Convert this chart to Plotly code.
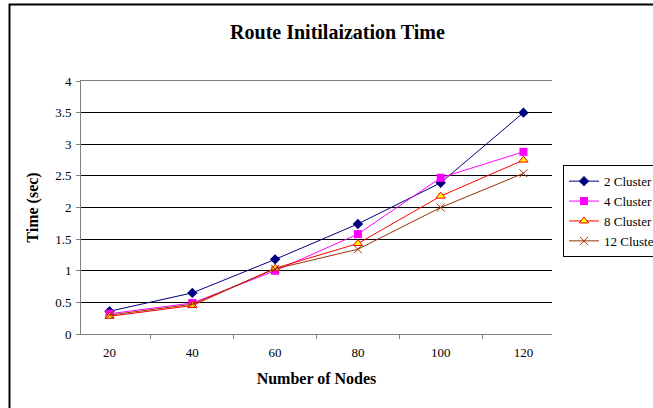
import plotly.graph_objects as go

nodes = ["20", "40", "60", "80", "100", "120"]
cluster2 = [0.36, 0.65, 1.18, 1.74, 2.39, 3.50]
cluster4 = [0.32, 0.49, 1.00, 1.58, 2.47, 2.88]
cluster8 = [0.28, 0.45, 1.04, 1.43, 2.18, 2.75]
cluster12 = [0.30, 0.47, 1.03, 1.34, 2.00, 2.54]

FONT = "Liberation Serif, Times New Roman, serif"

fig = go.Figure()
fig.add_trace(go.Scatter(x=nodes, y=cluster2, name="2 Cluster", mode="lines+markers",
                         line=dict(color="#000080", width=1),
                         marker=dict(symbol="diamond", size=8, color="#000080")))
fig.add_trace(go.Scatter(x=nodes, y=cluster4, name="4 Cluster", mode="lines+markers",
                         line=dict(color="#FF00FF", width=1),
                         marker=dict(symbol="square", size=8, color="#FF00FF")))
fig.add_trace(go.Scatter(x=nodes, y=cluster8, name="8 Cluster", mode="lines+markers",
                         line=dict(color="#FF0000", width=1),
                         marker=dict(symbol="triangle-up", size=8, color="#FFFF00",
                                     line=dict(color="#FF0000", width=1))))
fig.add_trace(go.Scatter(x=nodes, y=cluster12, name="12 Cluster", mode="lines+markers",
                         line=dict(color="#993300", width=1),
                         marker=dict(symbol="x-thin-open", size=8, color="#993300",
                                     line=dict(color="#993300", width=1))))

fig.update_layout(
    width=653, height=408,
    margin=dict(l=81, r=101, t=81, b=74, autoexpand=False),
    paper_bgcolor="white", plot_bgcolor="white",
    font=dict(family=FONT, size=13, color="black"),
    title=dict(text="<b>Route Initilaization Time</b>", x=337.5/653, xanchor="center",
               y=1-32/408, yanchor="middle", font=dict(family=FONT, size=20, color="black")),
    xaxis=dict(type="category", showgrid=False, showline=True, linecolor="#808080", linewidth=1,
               mirror=True,
               ticks="outside", tickson="boundaries", ticklen=4, tickcolor="#808080",
               ticklabelstandoff=6,
               tickfont=dict(family=FONT, size=13, color="black"), zeroline=False,
               title=dict(text="<b>Number of Nodes</b>", font=dict(family=FONT, size=16), standoff=14)),
    yaxis=dict(range=[0, 4], dtick=0.5, showgrid=True, gridcolor="#000000", gridwidth=1,
               showline=True, linecolor="#808080", linewidth=1, ticks="outside", ticklen=4,
               tickcolor="#808080", zeroline=False, ticklabelstandoff=2,
               tickfont=dict(family=FONT, size=13, color="black"),
               title=dict(text="<b>Time (sec)</b>", font=dict(family=FONT, size=16), standoff=12)),
    legend=dict(x=(563-81)/471, xanchor="left", y=(334-165)/253.3, yanchor="top",
                bordercolor="black", borderwidth=1, bgcolor="white",
                font=dict(family=FONT, size=13, color="black"), tracegroupgap=0),
    showlegend=True,
    shapes=[dict(type="rect", xref="paper", yref="paper",
                 x0=(9.5-81)/471, x1=(670-81)/471, y0=(334-420)/253.3, y1=(334-4)/253.3,
                 line=dict(color="black", width=2), fillcolor="rgba(0,0,0,0)", layer="below")],
)

fig.write_html("out.html")
